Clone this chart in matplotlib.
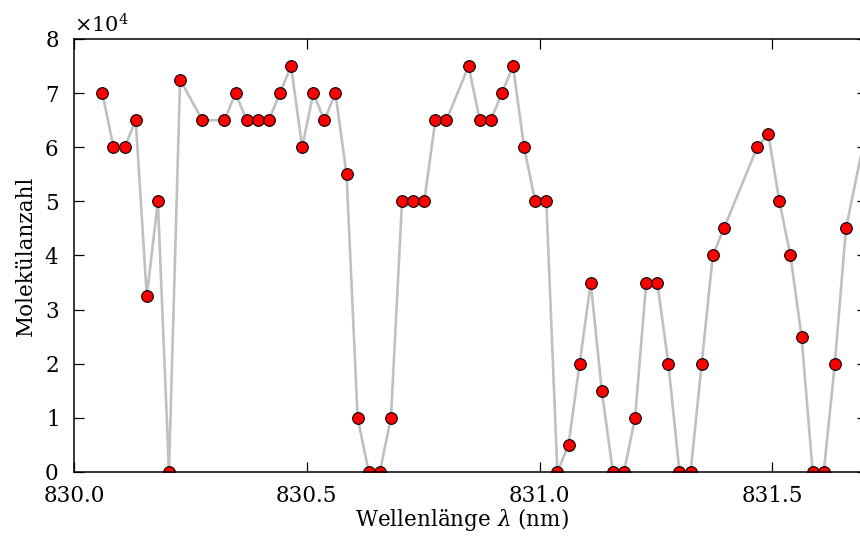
import matplotlib
matplotlib.use("Agg")
import matplotlib.pyplot as plt
from matplotlib.ticker import ScalarFormatter, FormatStrFormatter

# Wavelengths (nm)
wavelength = [
    830.0610, 830.0848, 830.1087, 830.1325, 830.1564, 830.1802, 830.2040, 830.2279,
    830.2756, 830.3232, 830.3471, 830.3709, 830.3948, 830.4186, 830.4424, 830.4663,
    830.4901, 830.5140, 830.5378, 830.5616, 830.5855, 830.6093, 830.6332, 830.6570,
    830.6808, 830.7047, 830.7285, 830.7524, 830.7762, 830.8000, 830.8477, 830.8716,
    830.8954, 830.9192, 830.9431, 830.9669, 830.9908, 831.0146, 831.0384, 831.0623,
    831.0861, 831.1100, 831.1338, 831.1576, 831.1815, 831.2053, 831.2292, 831.2530,
    831.2768, 831.3007, 831.3245, 831.3484, 831.3722, 831.3960, 831.4676, 831.4914,
    831.5152, 831.5391, 831.5629, 831.5868, 831.6106, 831.6344, 831.6583, 831.7060,
]

# Number of molecules
molecules = [
    70000, 60000, 60000, 65000, 32500, 50000, 0, 72500,
    65000, 65000, 70000, 65000, 65000, 65000, 70000, 75000,
    60000, 70000, 65000, 70000, 55000, 10000, 0, 0,
    10000, 50000, 50000, 50000, 65000, 65000, 75000, 65000,
    65000, 70000, 75000, 60000, 50000, 50000, 0, 5000,
    20000, 35000, 15000, 0, 0, 10000, 35000, 35000,
    20000, 0, 0, 20000, 40000, 45000, 60000, 62500,
    50000, 40000, 25000, 0, 0, 20000, 45000, 65000,
]

x_ticks = [830.0, 830.5, 831.0, 831.5]
y_ticks = [0, 10000, 20000, 30000, 40000, 50000, 60000, 70000, 80000]

plt.rcParams['font.family'] = ['DejaVu Serif']
plt.rcParams['mathtext.fontset'] = 'dejavuserif'

fig = plt.figure(figsize=(8.6, 5.47), dpi=100)
ax = fig.add_axes([74/860, 1 - 472/547, (867 - 74)/860, (472 - 39)/547])

ax.plot(wavelength, molecules, color='#c0c0c0', lw=1.9, zorder=2,
        marker='o', markersize=8.4, markerfacecolor='#ff0000',
        markeredgecolor='black', markeredgewidth=0.8, clip_on=True)

ax.set_xlim(830.0, 831.7035)
ax.set_ylim(0, 80000)
ax.set_xticks(x_ticks)
ax.set_yticks(y_ticks)
ax.xaxis.set_major_formatter(FormatStrFormatter('%.1f'))
fmt = ScalarFormatter(useMathText=True)
fmt.set_powerlimits((0, 0))
ax.yaxis.set_major_formatter(fmt)
ax.yaxis.get_offset_text().set_fontsize(15)
ax.yaxis.OFFSETTEXTPAD = 5

ax.tick_params(direction='in', length=7.5, width=0.9, top=True, right=True,
               labelsize=15.5)
ax.tick_params(axis='x', pad=9)
ax.tick_params(axis='y', pad=11)
for s in ax.spines.values():
    s.set_linewidth(1.1)

ax.set_xlabel(r'Wellenlänge $\lambda$ (nm)', fontsize=15.5, labelpad=-0.5, x=0.489)
ax.set_ylabel('Molekülanzahl', fontsize=15.5, labelpad=5)

fig.savefig('out.png', dpi=100)
